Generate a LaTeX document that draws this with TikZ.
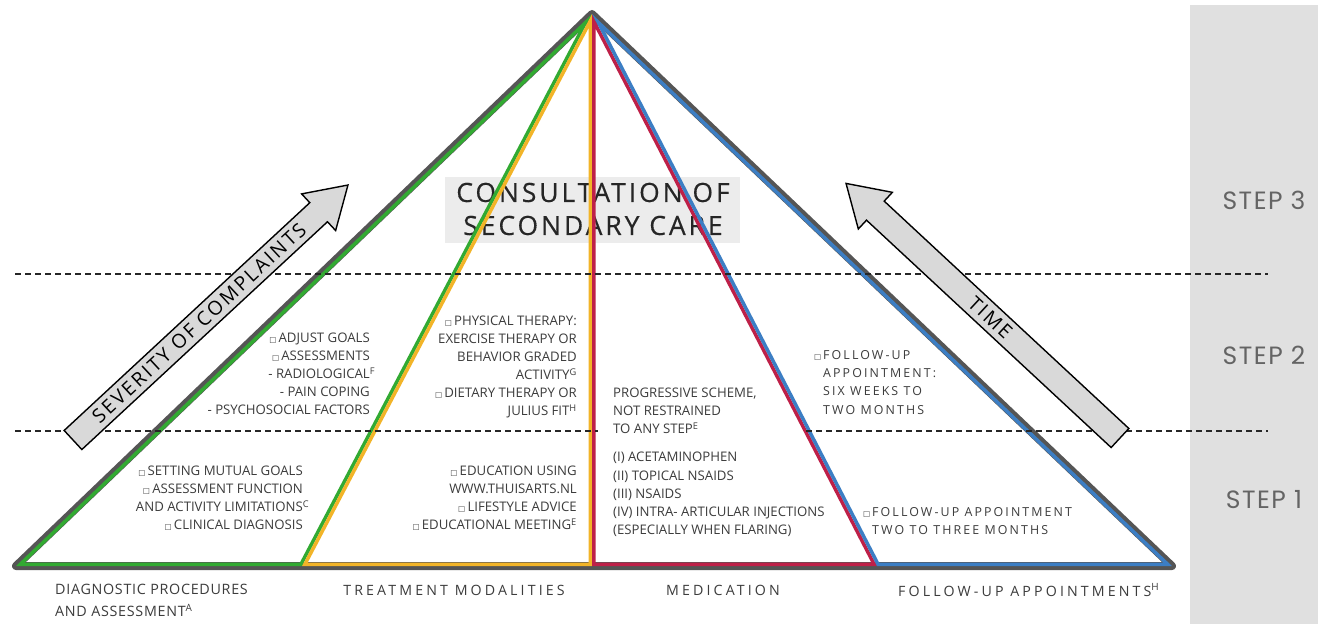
\documentclass[tikz,border=0pt]{standalone}
\usepackage{fontspec}
\setmainfont{Open Sans}
\newfontfamily\osansw[LetterSpace=17]{Open Sans}
\newfontfamily\osansl[LetterSpace=22]{Open Sans}
\newfontfamily\osansd[LetterSpace=5]{Open Sans}
\newfontfamily\osansc[LetterSpace=11,FakeBold=0.4]{Open Sans}
\newfontfamily\osansa[LetterSpace=12]{Open Sans}
\newfontfamily\stepf[LetterSpace=6]{Poppins}
\newfontfamily\djv{DejaVu Sans}
\usetikzlibrary{calc}
\definecolor{cgreen}{RGB}{50,170,50}
\definecolor{cyellow}{RGB}{242,180,40}
\definecolor{cred}{RGB}{190,32,72}
\definecolor{cblue}{RGB}{60,126,196}
\definecolor{cgray}{RGB}{85,85,85}
\definecolor{panel}{RGB}{224,224,224}
\definecolor{boxg}{RGB}{236,236,236}
\definecolor{arrowg}{RGB}{217,217,217}
\definecolor{txt}{RGB}{60,60,60}
\definecolor{steptxt}{RGB}{100,100,100}
\newcommand\bx{{\djv\fontsize{7.5}{7.5}\selectfont □}\,}
\tikzset{
  small/.style={font=\fontsize{13.2}{18}\selectfont, text=txt, inner sep=0pt},
  wide/.style={font=\osansw\fontsize{12.4}{18.3}\selectfont, text=txt, inner sep=0pt},
  label/.style={font=\osansl\fontsize{14.2}{22}\selectfont, text=txt, inner sep=0pt},
  steplabel/.style={font=\stepf\fontsize{25}{25}\selectfont, text=steptxt, inner sep=0pt},
  dashline/.style={line width=2.8pt, dash pattern=on 6pt off 4pt, color=black!85},
  bigarrow/.style={fill=arrowg, draw=black, line width=1.4pt, line join=miter},
  arrowtext/.style={font=\osansa\fontsize{19.5}{19.5}\selectfont, inner sep=0pt},
  outer/.style={draw=cgray, line width=8pt, line join=round},
  band/.style={line width=7pt},
}
\begin{document}
\begin{tikzpicture}[x=1pt,y=-1pt]
\useasboundingbox (0,0) rectangle (1318,624);
\fill[white] (0,0) rectangle (1318,624);
\fill[panel] (1190,5) rectangle (1318,624);

% consultation box
\node[fill=boxg, minimum width=295pt, minimum height=66pt, inner sep=0pt] (consbox) at (592.5,210) {};
\node[font=\osansc\fontsize{26.5}{33}\selectfont, text=black!85, align=center, inner sep=0pt] (cons) at (593,209) {CONSULTATION OF\\SECONDARY CARE};

% pyramid
\coordinate (A) at (592,14);
\coordinate (L) at (16,566);
\coordinate (G) at (302,566);
\coordinate (M) at (592,566);
\coordinate (B) at (877,566);
\coordinate (R) at (1172,566);
\path[outer] (A) -- (L) -- (R) -- cycle;
\begin{scope}
  \clip (A) -- (L) -- (G) -- cycle;
  \draw[cgreen, band] (A) -- (L) -- (G) -- cycle;
\end{scope}
\begin{scope}
  \clip (A) -- (G) -- (M) -- cycle;
  \draw[cyellow, band] (A) -- (G) -- (M) -- cycle;
\end{scope}
\begin{scope}
  \clip (A) -- (M) -- (B) -- cycle;
  \draw[cred, band] (A) -- (M) -- (B) -- cycle;
\end{scope}
\begin{scope}
  \clip (A) -- (B) -- (R) -- cycle;
  \draw[cblue, band] (A) -- (B) -- (R) -- cycle;
\end{scope}

% dashed step lines
\coordinate (d1a) at (15,274);
\coordinate (d1b) at (1268,274);
\coordinate (d2a) at (15,431);
\coordinate (d2b) at (598,431);
\coordinate (d2c) at (806,431);
\coordinate (d2d) at (1268,431);
\draw[dashline] (d1a) -- (d1b);
\draw[dashline] (d2a) -- (d2b);
\draw[dashline] (d2c) -- (d2d);

% arrows
\begin{scope}[shift={(73,440)}, rotate=42.84]
  \draw[bigarrow] (0,-13) -- (335,-13) -- (335,-25) -- (375,0) -- (335,25) -- (335,13) -- (0,13) -- cycle;
  \node[arrowtext, rotate=42.84] (sev) at (172,0) {SEVERITY OF COMPLAINTS};
\end{scope}
\begin{scope}[shift={(1120,438)}, rotate=137.1]
  \draw[bigarrow] (0,-13) -- (334,-13) -- (334,-25) -- (374,0) -- (334,25) -- (334,13) -- (0,13) -- cycle;
  \node[arrowtext, rotate=-42.9] (time) at (177,0) {TIME};
\end{scope}

% step labels
\node[steplabel] (s3) at (1264,200) {STEP 3};
\node[steplabel] (s2) at (1264,355) {STEP 2};
\node[steplabel] (s1) at (1264,500) {STEP 1};

% diagnostic texts
\node[small, align=right, anchor=north east] (ls2) at (370,333)
  {\bx ADJUST GOALS\\\bx ASSESSMENTS\\- RADIOLOGICAL\rlap{\textsuperscript{F}}\\- PAIN COPING\\- PSYCHOSOCIAL FACTORS};
\node[small, align=right, anchor=north east] (ls1) at (303,466)
  {\bx SETTING MUTUAL GOALS\\\bx ASSESSMENT FUNCTION\\AND ACTIVITY LIMITATIONS\rlap{\textsuperscript{C}}\\\bx CLINICAL DIAGNOSIS};

% treatment texts
\node[small, align=right, anchor=north east] (ts2) at (577,316)
  {\bx PHYSICAL THERAPY:\\EXERCISE THERAPY OR\\BEHAVIOR GRADED\\ACTIVITY\textsuperscript{G}\\\bx DIETARY THERAPY OR\\JULIUS FIT\textsuperscript{H}};
\node[small, align=right, anchor=north east] (ts1) at (577,466)
  {\bx EDUCATION USING\\WWW.THUISARTS.NL\\\bx LIFESTYLE ADVICE\\\bx EDUCATIONAL MEETING\textsuperscript{E}};

% medication texts
\node[small, align=left, anchor=north west] (ms2) at (613,388)
  {PROGRESSIVE SCHEME,\\NOT RESTRAINED\\TO ANY STEP\textsuperscript{E}};
\node[small, align=left, anchor=north west, font=\fontsize{13.2}{18.3}\selectfont] (ms1) at (613,452)
  {(I) ACETAMINOPHEN\\(II) TOPICAL NSAIDS\\(III) NSAIDS\\(IV) INTRA- ARTICULAR INJECTIONS\\(ESPECIALLY WHEN FLARING)};

% follow-up texts
\node[wide, align=left, anchor=north west] (fs2) at (823,350)
  {\llap{\bx}FOLLOW-UP\\APPOINTMENT:\\SIX WEEKS TO\\TWO MONTHS};
\node[wide, align=left, anchor=north west] (fs1) at (872,507)
  {\llap{\bx}FOLLOW-UP APPOINTMENT\\TWO TO THREE MONTHS};

% bottom labels
\node[font=\osansd\fontsize{14.3}{22}\selectfont, text=txt, inner sep=0pt, align=left, anchor=north west] (lab1) at (55,584)
  {DIAGNOSTIC PROCEDURES\\AND ASSESSMENT\textsuperscript{A}};
\node[label] (lab2) at (454,590) {TREATMENT MODALITIES};
\node[label] (lab3) at (723,590) {MEDICATION};
\node[label, anchor=west] (lab4) at (898,590) {FOLLOW-UP APPOINTMENTS\textsuperscript{H}};
\end{tikzpicture}
\end{document}
